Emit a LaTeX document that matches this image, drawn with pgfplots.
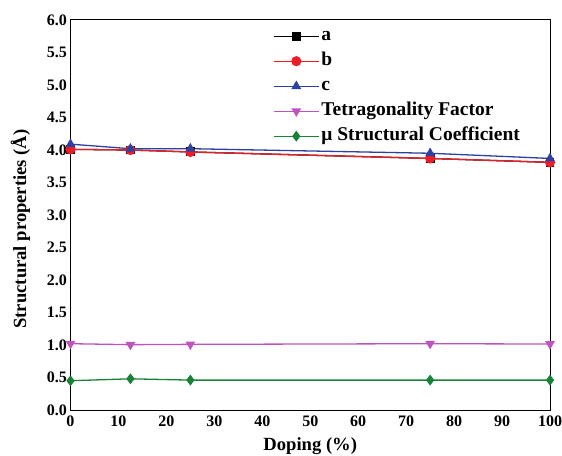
\documentclass[border=0pt]{standalone}
\usepackage{fontspec}
\setmainfont{Liberation Serif}
\usepackage{pgfplots}
\pgfplotsset{compat=1.18}
\definecolor{cblue}{RGB}{45,65,160}
\definecolor{cmag}{RGB}{190,85,190}
\definecolor{cgreen}{RGB}{25,130,55}
\definecolor{cred}{RGB}{235,30,40}
\begin{document}
\bfseries
\begin{tikzpicture}
\begin{axis}[
    name=main,
    scale only axis,
    width=479.5pt, height=390pt,
    xmin=0, xmax=100, ymin=0, ymax=6,
    xtick={0,10,...,100},
    ytick={0,0.5,...,6},
    yticklabel style={/pgf/number format/.cd, fixed, fixed zerofill, precision=1},
    xticklabel style={yshift=-2pt},
    /pgf/number format/assume math mode=true,
    tick style={draw=none},
    axis line style={line width=1pt},
    tick label style={font=\fontsize{16}{19}\selectfont\bfseries},
    label style={font=\fontsize{18.6}{22}\selectfont\bfseries},
    xlabel={Doping (\%)},
    ylabel={Structural properties (Å)},
    xlabel style={at={(rel axis cs:0.5,0)}, anchor=center, yshift=-36pt},
    ylabel style={at={(rel axis cs:0,0.464)}, anchor=center, yshift=50pt},
    legend style={draw=none, fill=none, at={(rel axis cs:0.416,0.991)}, anchor=north west,
        font=\fontsize{19.5}{22}\selectfont\bfseries, row sep=4pt,
        nodes={text height=13pt, text depth=4pt, inner sep=2pt}},
    legend cell align=left,
    legend image code/.code={\draw[mark repeat=2, mark phase=2] plot coordinates {(0pt,0pt) (22.5pt,0pt) (45pt,0pt)};},
    every axis plot/.append style={line width=1.3pt, mark size=4.4pt},
]
\addplot[black, mark=square*, mark size=3.8pt] coordinates {(0,4.01) (12.5,4.00) (25,3.97) (75,3.87) (100,3.81)};
\addlegendentry{a}
\addplot[cred, mark=*, mark options={fill=cred}] coordinates {(0,4.01) (12.5,4.00) (25,3.97) (75,3.87) (100,3.81)};
\addlegendentry{b}
\addplot[cblue, mark=triangle*, mark options={fill=cblue}] coordinates {(0,4.09) (12.5,4.02) (25,4.02) (75,3.95) (100,3.87)};
\addlegendentry{c}
\addplot[cmag, mark=triangle*, mark options={fill=cmag, rotate=180}] coordinates {(0,1.02) (12.5,1.005) (25,1.01) (75,1.02) (100,1.015)};
\addlegendentry{Tetragonality Factor}
\addplot[cgreen, mark=diamond*, mark options={fill=cgreen}] coordinates {(0,0.45) (12.5,0.48) (25,0.46) (75,0.46) (100,0.46)};
\addlegendentry{μ Structural Coefficient}
\end{axis}
\pgfresetboundingbox
\path[use as bounding box] ([xshift=-70.5pt,yshift=-45pt]main.south west) rectangle ++(562pt,455pt);
\end{tikzpicture}
\end{document}
